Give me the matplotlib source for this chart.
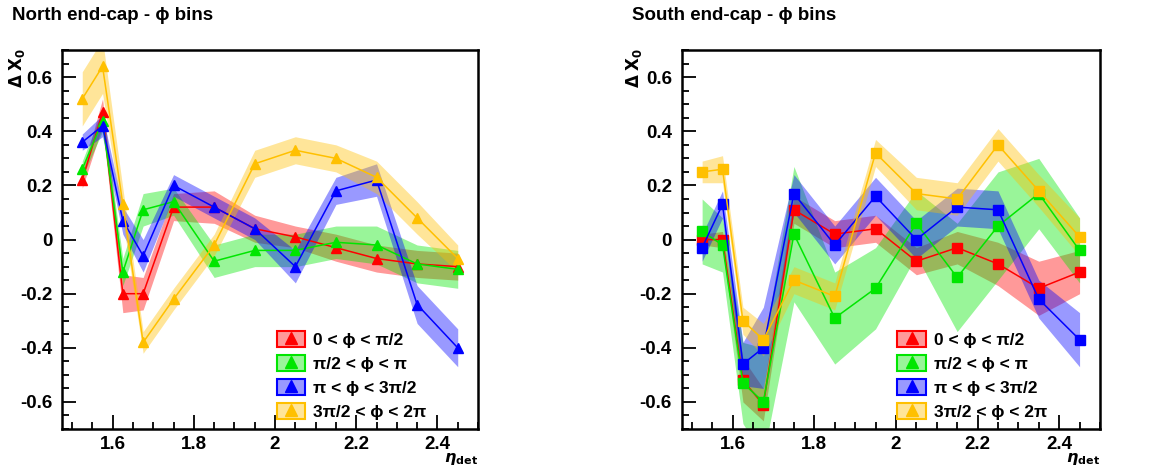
import matplotlib
matplotlib.use("Agg")
import matplotlib.pyplot as plt
import numpy as np
from matplotlib.lines import Line2D
from matplotlib.patches import Patch
from matplotlib.ticker import FuncFormatter, MultipleLocator

plt.rcParams["font.family"] = ["Liberation Sans", "DejaVu Sans"]
plt.rcParams["font.weight"] = "bold"
plt.rcParams["axes.unicode_minus"] = False

# eta_det bin centres
eta = [1.525, 1.575, 1.625, 1.675, 1.75, 1.85, 1.95, 2.05, 2.15, 2.25, 2.35, 2.45]

labels = ["0 < ϕ < π/2", "π/2 < ϕ < π", "π < ϕ < 3π/2", "3π/2 < ϕ < 2π"]
colors = ["#ff0000", "#00e600", "#0000ff", "#ffc000"]

# North end-cap: delta X0 and band half-widths
north_red = [0.22, 0.47, -0.20, -0.20, 0.12, 0.12, 0.04, 0.01, -0.03, -0.07, -0.09, -0.10]
north_red_err = [0.03, 0.05, 0.07, 0.06, 0.05, 0.06, 0.05, 0.04, 0.05, 0.05, 0.05, 0.05]
north_green = [0.26, 0.44, -0.12, 0.11, 0.14, -0.08, -0.04, -0.04, -0.01, -0.02, -0.09, -0.11]
north_green_err = [0.03, 0.04, 0.05, 0.06, 0.05, 0.06, 0.06, 0.06, 0.06, 0.07, 0.07, 0.07]
north_blue = [0.36, 0.42, 0.07, -0.06, 0.20, 0.12, 0.04, -0.10, 0.18, 0.22, -0.24, -0.40]
north_blue_err = [0.03, 0.04, 0.05, 0.06, 0.04, 0.04, 0.04, 0.06, 0.05, 0.06, 0.07, 0.07]
north_orange = [0.52, 0.64, 0.13, -0.38, -0.22, -0.02, 0.28, 0.33, 0.30, 0.23, 0.08, -0.07]
north_orange_err = [0.10, 0.10, 0.06, 0.04, 0.04, 0.04, 0.05, 0.05, 0.05, 0.06, 0.06, 0.05]

# South end-cap
south_red = [0.00, 0.00, -0.52, -0.61, 0.11, 0.02, 0.04, -0.08, -0.03, -0.09, -0.18, -0.12]
south_red_err = [0.02, 0.03, 0.08, 0.06, 0.05, 0.05, 0.05, 0.05, 0.06, 0.08, 0.10, 0.08]
south_green = [0.03, -0.02, -0.53, -0.60, 0.02, -0.29, -0.18, 0.06, -0.14, 0.05, 0.17, -0.04]
south_green_err = [0.12, 0.10, 0.15, 0.20, 0.25, 0.17, 0.15, 0.12, 0.20, 0.20, 0.13, 0.12]
south_blue = [-0.03, 0.13, -0.46, -0.40, 0.17, -0.02, 0.16, 0.00, 0.12, 0.11, -0.22, -0.37]
south_blue_err = [0.05, 0.05, 0.08, 0.15, 0.07, 0.07, 0.07, 0.07, 0.07, 0.07, 0.07, 0.10]
south_orange = [0.25, 0.26, -0.30, -0.37, -0.15, -0.21, 0.32, 0.17, 0.15, 0.35, 0.18, 0.01]
south_orange_err = [0.04, 0.05, 0.05, 0.06, 0.05, 0.05, 0.05, 0.06, 0.06, 0.06, 0.06, 0.07]

north = [(north_red, north_red_err), (north_green, north_green_err),
         (north_blue, north_blue_err), (north_orange, north_orange_err)]
south = [(south_red, south_red_err), (south_green, south_green_err),
         (south_blue, south_blue_err), (south_orange, south_orange_err)]

fig = plt.figure(figsize=(11.58, 4.73), dpi=100)
ax_n = fig.add_axes([0.0535, 0.093, 0.3593, 0.801])
ax_s = fig.add_axes([0.5887, 0.093, 0.3612, 0.801])

fmt = FuncFormatter(lambda v, p: "%g" % round(v, 3))


def draw_panel(ax, series, marker, ms):
    x = np.array(eta)
    for (vals, errs), col in zip(series, colors):
        vals = np.array(vals)
        errs = np.array(errs)
        ax.fill_between(x, vals - errs, vals + errs, color=col, alpha=0.4, lw=0)
        ax.plot(x, vals, color=col, lw=1.1, marker=marker, ms=ms, mec=col, mfc=col)
    ax.set_xlim(1.475, 2.5)
    ax.set_ylim(-0.7, 0.7)
    ax.xaxis.set_major_locator(MultipleLocator(0.2))
    ax.xaxis.set_minor_locator(MultipleLocator(0.05))
    ax.yaxis.set_major_locator(MultipleLocator(0.2))
    ax.yaxis.set_minor_locator(MultipleLocator(0.05))
    ax.xaxis.set_major_formatter(fmt)
    ax.yaxis.set_major_formatter(fmt)
    ax.tick_params(which="both", direction="in", top=False, right=False, width=1.3)
    ax.tick_params(which="major", length=10, labelsize=13.5)
    ax.tick_params(axis="y", which="major", pad=7)
    ax.tick_params(axis="x", which="major", pad=5)
    ax.tick_params(which="minor", length=5)
    for lab in ax.get_xticklabels() + ax.get_yticklabels():
        lab.set_fontweight("bold")
    for sp in ax.spines.values():
        sp.set_linewidth(1.8)

    handles = []
    for col in colors:
        patch = Patch(facecolor=col, alpha=0.4, edgecolor="none")
        edge = Patch(facecolor="none", edgecolor=col, lw=1.5)
        tri = Line2D([], [], ls="none", marker="^", ms=8, color=col)
        handles.append((patch, edge, tri))
    leg = ax.legend(handles, labels, loc="lower left", bbox_to_anchor=(0.495, 0.0),
                    frameon=False, borderpad=0, prop={"size": 12.5, "weight": "bold"},
                    handlelength=1.65, handleheight=1.05, handletextpad=0.45,
                    labelspacing=0.42)
    return leg


draw_panel(ax_n, north, "^", 7.5)
draw_panel(ax_s, south, "s", 7)

fig.text(12 / 1158, 1 - 15 / 473, "North end-cap - ϕ bins", fontsize=13.5,
         fontweight="bold", va="center", ha="left")
fig.text(632 / 1158, 1 - 15 / 473, "South end-cap - ϕ bins", fontsize=13.5,
         fontweight="bold", va="center", ha="left")

ylab = r"$\Delta$ $\mathbf{X_0}$"
fig.text(17 / 1158, 1 - 48 / 473, ylab, rotation=90, fontsize=12, va="top", ha="center")
fig.text(634 / 1158, 1 - 48 / 473, ylab, rotation=90, fontsize=12, va="top", ha="center")

xlab = r"$\eta_{\mathbf{det}}$"
fig.text(478 / 1158, 1 - 451 / 473, xlab, fontsize=11.5, va="top", ha="right")
fig.text(1100 / 1158, 1 - 451 / 473, xlab, fontsize=11.5, va="top", ha="right")

fig.savefig("out.png", dpi=100)
